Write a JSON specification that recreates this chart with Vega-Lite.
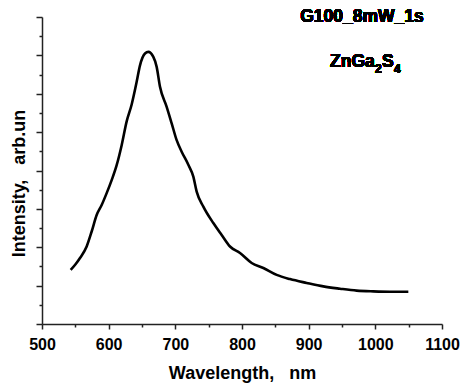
{
  "$schema": "https://vega.github.io/schema/vega-lite/v6.json",
  "width": 400,
  "height": 307,
  "autosize": "none",
  "padding": {"left": 42, "top": 17, "right": 19, "bottom": 64},
  "background": "white",
  "config": {
    "view": {"stroke": null},
    "font": "Liberation Sans"
  },
  "data": {
    "values": [
      {"wl": 543, "i": 1.41}, {"wl": 550, "i": 1.55}, {"wl": 557, "i": 1.72},
      {"wl": 567, "i": 2.02}, {"wl": 574.5, "i": 2.41}, {"wl": 582, "i": 2.84},
      {"wl": 589.5, "i": 3.10}, {"wl": 597, "i": 3.41}, {"wl": 604.5, "i": 3.75},
      {"wl": 612, "i": 4.14}, {"wl": 619.5, "i": 4.66}, {"wl": 627, "i": 5.28},
      {"wl": 634.5, "i": 5.72}, {"wl": 642, "i": 6.31}, {"wl": 647, "i": 6.74},
      {"wl": 654.5, "i": 7.05}, {"wl": 659.5, "i": 7.09}, {"wl": 667, "i": 6.96},
      {"wl": 672, "i": 6.70}, {"wl": 677, "i": 6.18}, {"wl": 687, "i": 5.66},
      {"wl": 694.5, "i": 5.23}, {"wl": 702, "i": 4.79}, {"wl": 709.5, "i": 4.49},
      {"wl": 719.5, "i": 4.15}, {"wl": 727, "i": 3.84}, {"wl": 732, "i": 3.45},
      {"wl": 742, "i": 3.06}, {"wl": 757, "i": 2.63}, {"wl": 769.5, "i": 2.32},
      {"wl": 782, "i": 2.02}, {"wl": 797, "i": 1.85}, {"wl": 814.5, "i": 1.59},
      {"wl": 832, "i": 1.46}, {"wl": 852, "i": 1.28}, {"wl": 872, "i": 1.17},
      {"wl": 897, "i": 1.07}, {"wl": 922, "i": 0.98}, {"wl": 947, "i": 0.92},
      {"wl": 972, "i": 0.87}, {"wl": 997, "i": 0.85}, {"wl": 1022, "i": 0.84},
      {"wl": 1049.5, "i": 0.84}
    ]
  },
  "layer": [
    {
      "mark": {"type": "line", "color": "black", "strokeWidth": 2.6, "interpolate": "monotone"},
      "encoding": {
        "x": {
          "field": "wl", "type": "quantitative",
          "scale": {"domain": [500, 1100], "nice": false, "zero": false},
          "axis": {
            "title": "Wavelength,\u00a0\u00a0\u00a0nm",
            "values": [500, 550, 600, 650, 700, 750, 800, 850, 900, 950, 1000, 1050, 1100],
            "tickCount": 200,
            "labelExpr": "datum.value % 100 === 0 ? datum.label : ''",
            "format": "d",
            "grid": false,
            "domainColor": "#222",
            "domainWidth": 1.5,
            "tickColor": "#222",
            "tickWidth": 1.5,
            "tickSize": {"condition": {"test": "datum.value % 100 === 0", "value": 5}, "value": 3},
            "labelFont": "Liberation Sans",
            "labelFontWeight": "bold",
            "labelFontSize": 16,
            "labelColor": "black",
            "labelPadding": 7,
            "labelFlush": false,
            "labelOverlap": false,
            "titleFont": "Liberation Sans",
            "titleFontWeight": "bold",
            "titleFontSize": 18,
            "titleColor": "black",
            "titlePadding": 12
          }
        },
        "y": {
          "field": "i", "type": "quantitative",
          "scale": {"domain": [0, 8], "nice": false, "zero": false},
          "axis": {
            "title": "Intensity,\u00a0\u00a0\u00a0arb.un",
            "values": [0, 0.5, 1, 1.5, 2, 2.5, 3, 3.5, 4, 4.5, 5, 5.5, 6, 6.5, 7, 7.5, 8],
            "tickCount": 200,
            "labels": false,
            "grid": false,
            "domainColor": "#222",
            "domainWidth": 1.5,
            "tickColor": "#222",
            "tickWidth": 1.5,
            "tickSize": {"condition": {"test": "datum.value % 1 === 0", "value": 6}, "value": 3},
            "titleFont": "Liberation Sans",
            "titleFontWeight": "bold",
            "titleFontSize": 18,
            "titleColor": "black",
            "titleX": -14,
            "titleY": 166
          }
        }
      }
    },
    {
      "mark": {"type": "text", "font": "Liberation Sans", "fontWeight": "bold", "fontSize": 17.5, "align": "center", "baseline": "alphabetic", "fill": "black"},
      "encoding": {
        "x": {"datum": 980},
        "y": {"datum": 7.8697},
        "text": {"value": "G100_8mW_1s"}
      }
    },
    {
      "mark": {"type": "text", "font": "Liberation Sans", "fontWeight": "bold", "fontSize": 17.5, "align": "left", "baseline": "alphabetic", "fill": "black"},
      "encoding": {
        "x": {"datum": 932},
        "y": {"datum": 6.6971},
        "text": {"value": "ZnGa"}
      }
    },
    {
      "mark": {"type": "text", "font": "Liberation Sans", "fontWeight": "bold", "fontSize": 12, "align": "left", "baseline": "alphabetic", "fill": "black"},
      "encoding": {
        "x": {"datum": 999.5},
        "y": {"datum": 6.5407},
        "text": {"value": "2"}
      }
    },
    {
      "mark": {"type": "text", "font": "Liberation Sans", "fontWeight": "bold", "fontSize": 17.5, "align": "left", "baseline": "alphabetic", "fill": "black"},
      "encoding": {
        "x": {"datum": 1010},
        "y": {"datum": 6.6971},
        "text": {"value": "S"}
      }
    },
    {
      "mark": {"type": "text", "font": "Liberation Sans", "fontWeight": "bold", "fontSize": 12, "align": "left", "baseline": "alphabetic", "fill": "black"},
      "encoding": {
        "x": {"datum": 1028},
        "y": {"datum": 6.5407},
        "text": {"value": "4"}
      }
    }
  ]
}
